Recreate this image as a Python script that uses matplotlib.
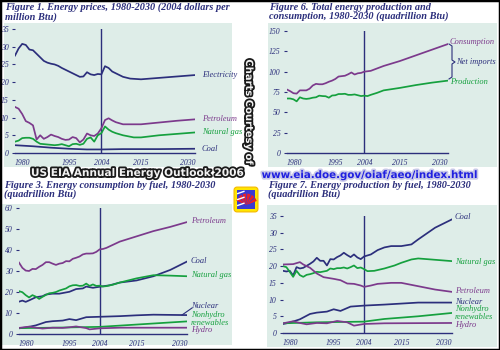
import matplotlib
matplotlib.use("Agg")
import matplotlib.pyplot as plt
import matplotlib.patheffects as pe
from matplotlib.patches import Rectangle, FancyBboxPatch, Wedge
import numpy as np

# ---- data: Figure 1, energy prices (2004 $ per million Btu)
f1_elec_yr = [1980, 1981, 1982, 1983, 1984, 1985, 1986, 1987, 1988, 1989, 1990, 1991, 1992, 1993, 1994,
              1995, 1996, 1997, 1998, 1999, 2000, 2001, 2002, 2003, 2004, 2005, 2006, 2007, 2008, 2010,
              2012, 2015, 2020, 2025, 2030]
f1_elec = [27.5, 29.5, 30.8, 30.5, 29.2, 29.0, 28.0, 27.0, 26.0, 25.5, 25.2, 25.0, 24.6, 24.0, 23.5,
           23.0, 22.5, 22.0, 21.5, 21.6, 22.8, 22.2, 22.0, 22.3, 22.2, 24.5, 24.0, 23.0, 22.5, 21.5,
           21.0, 20.8, 21.2, 21.6, 22.0]
f1_pet_yr = [1980, 1981, 1982, 1983, 1984, 1985, 1986, 1987, 1988, 1989, 1990, 1991, 1992, 1993, 1994,
             1995, 1996, 1997, 1998, 1999, 2000, 2001, 2002, 2003, 2004, 2005, 2006, 2007, 2008, 2010,
             2015, 2020, 2025, 2030]
f1_pet = [13.0, 12.5, 11.0, 9.0, 8.5, 7.8, 3.8, 5.0, 4.0, 4.5, 5.2, 4.8, 4.5, 4.0, 3.7,
          3.8, 4.5, 4.2, 3.0, 3.8, 5.5, 5.0, 4.8, 5.5, 7.0, 9.3, 9.8, 9.2, 8.7, 8.1,
          8.1, 8.6, 9.1, 9.5]
f1_gas_yr = [1980, 1981, 1982, 1983, 1984, 1985, 1986, 1987, 1988, 1989, 1990, 1991, 1992, 1993, 1994,
             1995, 1996, 1997, 1998, 1999, 2000, 2001, 2002, 2003, 2004, 2005, 2006, 2007, 2008, 2010,
             2013, 2015, 2020, 2025, 2030]
f1_gas = [3.2, 3.5, 4.2, 4.3, 4.3, 4.0, 3.2, 2.6, 2.5, 2.4, 2.3, 2.2, 2.3, 2.5, 2.2,
          1.9, 2.5, 2.6, 2.3, 2.6, 4.0, 4.4, 3.2, 5.0, 5.6, 7.5, 6.6, 6.0, 5.6, 5.0,
          4.4, 4.4, 5.0, 5.4, 5.8]
f1_coal_yr = [1980, 1985, 1990, 1995, 2000, 2004, 2010, 2020, 2030]
f1_coal = [2.2, 1.9, 1.5, 1.2, 1.0, 1.0, 1.1, 1.1, 1.2]

# ---- Figure 6, total production and consumption (quadrillion Btu)
f6_yr = [1980, 1981, 1982, 1983, 1984, 1985, 1986, 1987, 1988, 1989, 1990, 1991, 1992, 1993, 1994,
         1995, 1996, 1997, 1998, 1999, 2000, 2001, 2002, 2003, 2004, 2005, 2006, 2008, 2010,
         2015, 2020, 2025, 2030]
f6_cons = [78.0, 76.0, 73.5, 73.0, 77.0, 77.0, 77.0, 79.0, 83.0, 85.0, 84.5, 84.5, 85.8, 87.6, 89.0,
           91.0, 94.0, 94.5, 95.0, 96.8, 99.0, 96.5, 98.0, 98.5, 100.0, 100.5, 101.0, 104.0, 107.0,
           113.0, 120.0, 127.0, 134.0]
f6_prod = [67.0, 67.0, 66.0, 63.5, 68.5, 67.0, 66.5, 67.0, 68.0, 68.5, 70.5, 70.0, 69.8, 68.0, 70.7,
           71.0, 72.5, 72.5, 72.8, 71.5, 71.5, 72.0, 71.0, 70.0, 70.5, 70.0, 71.5, 74.0, 77.0,
           80.0, 83.5, 86.5, 89.0]

# ---- Figure 3, consumption by fuel (quadrillion Btu)
f3_yr = [1980, 1981, 1982, 1983, 1984, 1985, 1986, 1987, 1988, 1989, 1990, 1991, 1992, 1993, 1994,
         1995, 1996, 1997, 1998, 1999, 2000, 2001, 2002, 2003, 2004, 2005, 2006, 2008, 2010,
         2015, 2020, 2025, 2030]
f3_pet = [34.0, 31.5, 30.2, 30.0, 31.0, 30.9, 32.0, 32.9, 34.2, 34.2, 33.5, 32.9, 33.5, 33.8, 34.7,
          34.6, 35.8, 36.3, 36.9, 37.9, 38.3, 38.3, 38.4, 39.1, 40.3, 40.5, 41.0, 42.5, 44.0,
          46.5, 49.0, 51.0, 53.3]
f3_gas = [20.4, 19.9, 18.5, 17.4, 18.5, 17.8, 16.7, 17.7, 18.6, 19.4, 19.6, 20.0, 20.7, 21.2, 21.7,
          22.7, 23.2, 23.3, 22.9, 23.0, 24.0, 22.9, 23.6, 22.9, 23.0, 22.6, 22.8, 23.5, 24.5,
          26.5, 28.0, 27.8, 27.5]
f3_coal_yr = [1980, 1981, 1982, 1983, 1985, 1987, 1988, 1990, 1992, 1995, 1997, 1999, 2000, 2002,
              2004, 2007, 2010, 2015, 2020, 2025, 2030]
f3_coal = [15.4, 15.9, 15.3, 16.0, 17.5, 18.0, 18.8, 19.2, 19.2, 20.1, 21.4, 21.7, 22.6, 22.0,
           22.5, 23.2, 24.5, 25.5, 27.5, 30.5, 34.5]
f3_nuc_yr = [1980, 1982, 1985, 1988, 1990, 1993, 1995, 1997, 2000, 2004, 2010, 2015, 2020, 2030]
f3_nuc = [2.7, 3.1, 4.1, 5.7, 6.1, 6.4, 7.1, 6.6, 8.0, 8.2, 8.5, 8.9, 9.2, 9.0]
f3_ren_yr = [1980, 1990, 2004, 2010, 2020, 2030]
f3_ren = [2.8, 3.0, 3.4, 4.0, 5.0, 6.0]
f3_hyd_yr = [1980, 1983, 1985, 1987, 1990, 1993, 1995, 1997, 2000, 2001, 2004, 2010, 2030]
f3_hyd = [2.9, 3.5, 3.0, 2.6, 3.0, 2.9, 3.2, 3.6, 2.8, 2.2, 2.7, 3.0, 3.0]

# ---- Figure 7, production by fuel (quadrillion Btu)
f7_coal_yr = [1980, 1981, 1982, 1983, 1984, 1985, 1986, 1987, 1988, 1989, 1990, 1991, 1992, 1993, 1994,
              1995, 1996, 1997, 1998, 1999, 2000, 2001, 2002, 2003, 2004, 2006, 2008, 2010, 2012,
              2015, 2018, 2020, 2025, 2030]
f7_coal = [18.6, 18.4, 18.6, 17.2, 19.7, 19.3, 19.5, 20.1, 20.7, 21.4, 22.5, 21.6, 21.6, 20.2, 22.1,
           22.0, 22.7, 23.2, 24.0, 23.3, 22.7, 23.5, 22.6, 22.1, 22.9, 23.5, 24.8, 25.6, 26.0,
           26.0, 26.5, 28.0, 31.5, 34.0]
f7_gas_yr = [1980, 1981, 1982, 1983, 1984, 1985, 1986, 1987, 1988, 1989, 1990, 1991, 1992, 1993, 1994,
             1995, 1996, 1997, 1998, 1999, 2000, 2001, 2002, 2003, 2004, 2005, 2007, 2010, 2013,
             2015, 2018, 2020, 2025, 2030]
f7_gas = [20.0, 19.7, 18.3, 16.8, 18.6, 17.3, 16.8, 17.4, 17.6, 17.9, 18.3, 18.2, 18.4, 18.6, 19.3,
          19.1, 19.4, 19.4, 19.6, 19.3, 19.7, 20.2, 19.4, 19.6, 19.1, 18.5, 18.6, 19.3, 20.2,
          21.0, 22.0, 22.3, 21.9, 21.5]
f7_pet_yr = [1980, 1983, 1985, 1986, 1988, 1990, 1992, 1995, 1997, 1999, 2001, 2003, 2004, 2006,
             2008, 2012, 2015, 2020, 2025, 2030]
f7_pet = [20.5, 20.6, 21.2, 20.5, 19.5, 17.8, 16.7, 16.2, 15.8, 14.8, 14.7, 14.2, 13.8, 14.2,
          14.7, 15.0, 15.0, 14.0, 13.0, 12.3]
f7_nuc_yr = [1980, 1982, 1985, 1988, 1990, 1993, 1995, 1997, 2000, 2004, 2010, 2020, 2030]
f7_nuc = [2.7, 3.1, 4.1, 5.7, 6.1, 6.4, 7.1, 6.6, 7.9, 8.2, 8.5, 9.1, 9.1]
f7_ren_yr = [1980, 1990, 2004, 2010, 2020, 2030]
f7_ren = [2.9, 3.2, 3.4, 4.2, 5.0, 6.0]
f7_hyd_yr = [1980, 1983, 1985, 1987, 1990, 1993, 1996, 1999, 2001, 2004, 2010, 2030]
f7_hyd = [2.9, 3.5, 3.0, 2.6, 3.0, 2.9, 3.6, 3.2, 2.2, 2.7, 2.9, 3.0]

xticks = [1980, 1995, 2004, 2015, 2030]

NAVY = "#2c2f7c"
PURPLE = "#7c3a8c"
GREEN = "#15a03e"
BG = "#deede8"
SERIF = "Liberation Serif"
W, H = 500, 350

fig = plt.figure(figsize=(5, 3.5), dpi=100)
fig.patch.set_facecolor("white")


def fx(x):
    return x / W


def fy(y):
    return 1 - y / H


def ftext(x, y, s, **kw):
    kw.setdefault("fontfamily", SERIF)
    kw.setdefault("style", "italic")
    kw.setdefault("va", "center")
    return fig.text(fx(x), fy(y), s, **kw)


def bg_rect(x0, y0, x1, y1):
    # plain background panel in figure pixels, behind all axes
    bax = fig.add_axes([fx(x0), fy(y1), (x1 - x0) / W, (y1 - y0) / H], zorder=-10)
    bax.set_facecolor(BG)
    bax.set_xticks([])
    bax.set_yticks([])
    for s in bax.spines.values():
        s.set_visible(False)


def panel(x1980, x2030, y0, ytop, ymax, ystep, hist_x, proj_x):
    ax = fig.add_axes([fx(x1980), fy(y0), (x2030 - x1980) / W, (y0 - ytop) / H], zorder=1)
    ax.set_facecolor("none")
    ax.set_xlim(1980, 2030)
    ax.set_ylim(0, ymax)
    for s in ["top", "right", "left"]:
        ax.spines[s].set_visible(False)
    ax.spines["bottom"].set_color(NAVY)
    ax.spines["bottom"].set_linewidth(1.0)
    ax.set_yticks(np.arange(0, ymax + 1, ystep))
    ax.tick_params(axis="y", length=2.2, width=0.8, color=NAVY, pad=2.5,
                   labelsize=5.6, labelcolor=NAVY)
    ax.set_xticks(xticks)
    ax.set_xticklabels([str(t) for t in xticks])
    ax.tick_params(axis="x", length=0, pad=4, labelsize=5.6, labelcolor=NAVY)
    for lab in ax.get_xticklabels() + ax.get_yticklabels():
        lab.set_fontfamily(SERIF)
        lab.set_style("italic")
    xl = ax.get_xticklabels()
    xl[0].set_ha("left")
    xl[-1].set_ha("right")
    ax.axvline(2004, color=NAVY, lw=1.0)
    ax.text(hist_x, 1.0, "History", transform=ax.get_yaxis_transform(), ha="center",
            va="center", fontsize=5.6, color=NAVY, family=SERIF, style="italic")
    ax.text(proj_x, 1.0, "Projections", transform=ax.get_yaxis_transform(), ha="center",
            va="center", fontsize=5.6, color=NAVY, family=SERIF, style="italic")
    return ax


tkw = dict(fontsize=7.4, color=NAVY, fontweight="bold", fontfamily=SERIF,
           style="italic", va="center", linespacing=1.05)
lkw = dict(fontsize=6.0)
LW = 1.25

# ---------- Figure 1
bg_rect(4, 23, 232, 167)
ax1 = panel(15, 195, 153, 29, 35, 5, 1993, 2017)
ax1.plot(f1_elec_yr, f1_elec, color=NAVY, lw=LW)
ax1.plot(f1_pet_yr, f1_pet, color=PURPLE, lw=LW)
ax1.plot(f1_gas_yr, f1_gas, color=GREEN, lw=LW)
ax1.plot(f1_coal_yr, f1_coal, color=NAVY, lw=LW)
fig.text(fx(5), fy(12), "Figure 1. Energy prices, 1980-2030 (2004 dollars per\nmillion Btu)", **tkw)
ftext(202, 75, "Electricity", color=NAVY, **lkw)
ftext(202, 119, "Petroleum", color=PURPLE, **lkw)
ftext(202, 132, "Natural gas", color=GREEN, **lkw)
ftext(202, 149, "Coal", color=NAVY, **lkw)

# ---------- Figure 6
bg_rect(268, 23, 497, 167)
ax2 = panel(287, 448, 153, 31, 150, 25, 1991, 2016)
ax2.plot(f6_yr, f6_cons, color=PURPLE, lw=LW)
ax2.plot(f6_yr, f6_prod, color=GREEN, lw=LW)
fig.text(fx(269), fy(12), "Figure 6. Total energy production and\nconsumption, 1980-2030 (quadrillion Btu)", **tkw)
ftext(450, 42, "Consumption", color=PURPLE, **lkw)
ftext(450, 82, "Production", color=GREEN, **lkw)
ftext(456, 62, "Net imports", color=NAVY, **lkw)
bx = [449, 452, 452, 455, 452, 452, 449]
by = [44, 46, 60, 62, 64, 77, 79]
fig.add_artist(plt.Line2D([fx(v) for v in bx], [fy(v) for v in by], color=NAVY, lw=0.8))

# ---------- Figure 3
bg_rect(0, 204, 232, 345)
ax3 = panel(19, 187, 334, 208, 60, 10, 1993, 2017)
ax3.plot(f3_yr, f3_pet, color=PURPLE, lw=LW)
ax3.plot(f3_coal_yr, f3_coal, color=NAVY, lw=LW)
ax3.plot(f3_yr, f3_gas, color=GREEN, lw=LW)
ax3.plot(f3_nuc_yr, f3_nuc, color=NAVY, lw=LW)
ax3.plot(f3_ren_yr, f3_ren, color=GREEN, lw=LW)
ax3.plot(f3_hyd_yr, f3_hyd, color=PURPLE, lw=LW)
fig.text(fx(4), fy(190), "Figure 3. Energy consumption by fuel, 1980-2030\n(quadrillion Btu)", **tkw)
ftext(191, 221, "Petroleum", color=PURPLE, **lkw)
ftext(191, 261, "Coal", color=NAVY, **lkw)
ftext(191, 275, "Natural gas", color=GREEN, **lkw)
ftext(191, 306, "Nuclear", color=NAVY, **lkw)
ftext(191, 319, "Nonhydro\nrenewables", color=GREEN, linespacing=0.85, **lkw)
ftext(191, 330, "Hydro", color=PURPLE, **lkw)
fig.add_artist(plt.Line2D([fx(182), fx(192)], [fy(315), fy(308)], color=NAVY, lw=0.8))

# ---------- Figure 7
bg_rect(267, 205, 497, 347)
ax4 = panel(283, 452, 333, 216, 35, 5, 1991, 2017)
ax4.plot(f7_coal_yr, f7_coal, color=NAVY, lw=LW)
ax4.plot(f7_gas_yr, f7_gas, color=GREEN, lw=LW)
ax4.plot(f7_pet_yr, f7_pet, color=PURPLE, lw=LW)
ax4.plot(f7_nuc_yr, f7_nuc, color=NAVY, lw=LW)
ax4.plot(f7_ren_yr, f7_ren, color=GREEN, lw=LW)
ax4.plot(f7_hyd_yr, f7_hyd, color=PURPLE, lw=LW)
fig.text(fx(268), fy(190), "Figure 7. Energy production by fuel, 1980-2030\n(quadrillion Btu)", **tkw)
ftext(455, 217, "Coal", color=NAVY, **lkw)
ftext(455, 262, "Natural gas", color=GREEN, **lkw)
ftext(455, 291, "Petroleum", color=PURPLE, **lkw)
ftext(455, 302, "Nuclear", color=NAVY, **lkw)
ftext(455, 313, "Nonhydro\nrenewables", color=GREEN, linespacing=0.85, **lkw)
ftext(455, 325, "Hydro", color=PURPLE, **lkw)

# ---------- overlay credits
outline = [pe.withStroke(linewidth=2.6, foreground="#1a1a1a")]
fig.text(fx(249), fy(112), "Charts Courtesy of", rotation=-90, ha="center", va="center",
         fontsize=7.2, fontweight="bold", color="#f2f2f2", family="DejaVu Sans",
         path_effects=outline, zorder=5)
fig.text(fx(137), fy(173), "US EIA Annual Energy Outlook 2006", ha="center", va="center",
         fontsize=7.6, fontweight="bold", color="#f2f2f2", family="DejaVu Sans",
         path_effects=outline, zorder=5)
fig.text(fx(370), fy(175), "www.eia.doe.gov/oiaf/aeo/index.html", ha="center", va="center",
         fontsize=7.4, fontweight="bold", color="#2020e0", family="DejaVu Sans",
         path_effects=[pe.withStroke(linewidth=2.4, foreground="#c8c8e8")], zorder=5)

# EIA logo
lg = fig.add_axes([fx(233), fy(213), 26 / W, 27 / H], zorder=3)
lg.set_xlim(0, 1)
lg.set_ylim(0, 1)
lg.axis("off")
lg.add_patch(FancyBboxPatch((0.04, 0.04), 0.92, 0.92, boxstyle="round,pad=0,rounding_size=0.12",
                            facecolor="#ffe600", edgecolor="#f5b800", lw=0.8))
lg.add_patch(Rectangle((0.14, 0.14), 0.72, 0.72, facecolor="#3a3ad0", edgecolor="none"))
for a0 in range(0, 180, 30):
    lg.add_patch(Wedge((0.52, 0.3), 0.42, 20 + a0 * 0.8, 20 + a0 * 0.8 + 18,
                       facecolor="#e8202a", edgecolor="none"))
for yy in [0.28, 0.5, 0.72]:
    lg.plot([0.18, 0.42], [yy, yy + 0.08], color="white", lw=1.0)

# outer frame
fig.add_artist(Rectangle((0, 0), 1, 1, transform=fig.transFigure, fill=False,
                         edgecolor="black", lw=2.5, zorder=10))

fig.savefig("out.png", dpi=100)
